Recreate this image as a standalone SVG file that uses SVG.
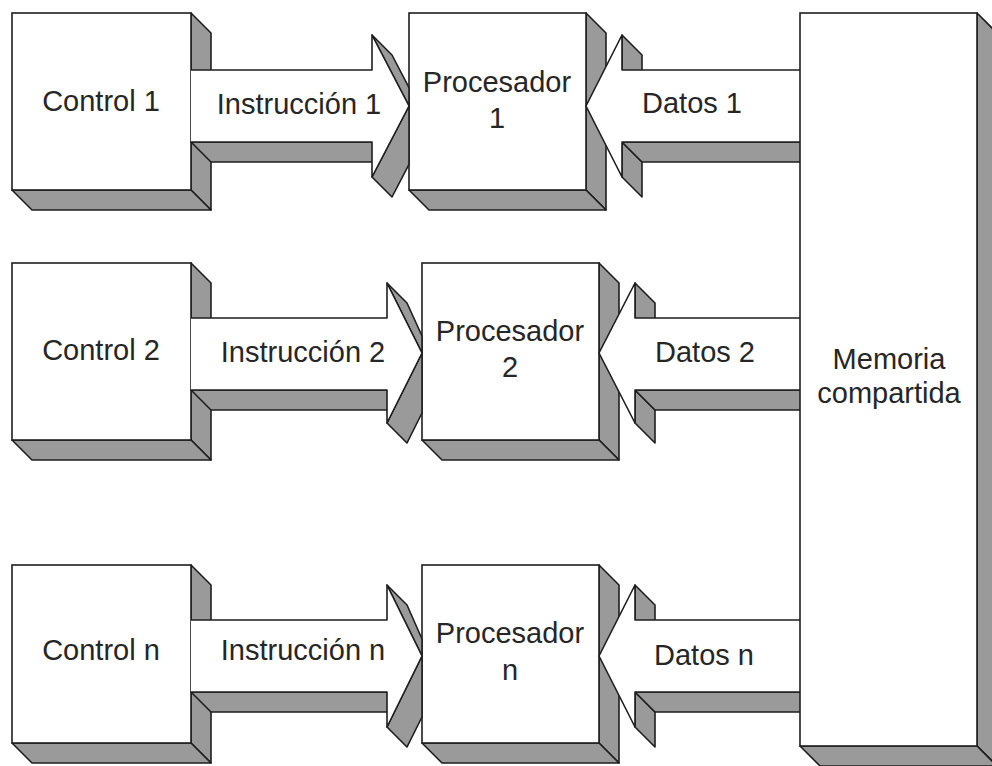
<svg xmlns="http://www.w3.org/2000/svg" width="992" height="766" viewBox="0 0 992 766">
<style>
.s{fill:#9a9a9a;stroke:#1e1e1e;stroke-width:1.6;stroke-linejoin:round}
.f{fill:#ffffff;stroke:#1e1e1e;stroke-width:1.6}
.af{fill:#ffffff;stroke:none}
.al{fill:none;stroke:#1e1e1e;stroke-width:1.6;stroke-linejoin:round}
.t{font-family:"Liberation Sans",Arial,sans-serif;font-size:29px;fill:#262626;text-anchor:middle}
</style>
<rect width="992" height="766" fill="#ffffff"/>

<g id="control1">
<polygon class="s" points="191,13 211,33 211,210 191,190"/>
<polygon class="s" points="12,190 191,190 211,210 32,210"/>
<rect class="f" x="12" y="13" width="179" height="177"/>
<text class="t" x="101" y="111">Control 1</text>
</g>
<g id="control2">
<polygon class="s" points="191,263 211,283 211,460 191,440"/>
<polygon class="s" points="12,440 191,440 211,460 32,460"/>
<rect class="f" x="12" y="263" width="179" height="177"/>
<text class="t" x="101" y="360">Control 2</text>
</g>
<g id="controln">
<polygon class="s" points="191,565 211,585 211,763 191,743"/>
<polygon class="s" points="12,743 191,743 211,763 32,763"/>
<rect class="f" x="12" y="565" width="179" height="178"/>
<text class="t" x="101" y="660">Control n</text>
</g>

<g id="procesador1">
<polygon class="s" points="586,13 606,33 606,210 586,190"/>
<polygon class="s" points="409,190 586,190 606,210 429,210"/>
<rect class="f" x="409" y="13" width="177" height="177"/>
<text class="t" x="497" y="92">Procesador</text>
<text class="t" x="497" y="128">1</text>
</g>
<g id="procesador2">
<polygon class="s" points="599,263 619,283 619,460 599,440"/>
<polygon class="s" points="422,440 599,440 619,460 442,460"/>
<rect class="f" x="422" y="263" width="177" height="177"/>
<text class="t" x="510" y="341">Procesador</text>
<text class="t" x="510" y="377">2</text>
</g>
<g id="procesadorn">
<polygon class="s" points="599,565 619,585 619,763 599,743"/>
<polygon class="s" points="422,743 599,743 619,763 442,763"/>
<rect class="f" x="422" y="565" width="177" height="178"/>
<text class="t" x="510" y="643">Procesador</text>
<text class="t" x="510" y="680">n</text>
</g>

<g id="connectors">
<g id="instruccion1">
<polygon class="s" points="372,142 191,142 211,162 392,162"/>
<polygon class="s" points="372,35 409,106 409,87.6 392,55"/>
<polygon class="s" points="409,106 372,177 392,197 409,164.4"/>
<polygon class="af" points="191,70 372,70 372,35 409,106 372,177 372,142 191,142"/>
<polyline class="al" points="191,70 372,70 372,35 409,106 372,177 372,142 191,142"/>
<text class="t" x="299" y="114">Instrucción 1</text>
</g>
<g id="datos1">
<polygon class="s" points="622,70 622,35 642,55 642,90"/>
<polygon class="s" points="622,177 622,142 642,162 642,197"/>
<polygon class="s" points="622,142 800,142 820,162 642,162"/>
<polygon class="af" points="800,70 622,70 622,35 586,106 622,177 622,142 800,142"/>
<polyline class="al" points="800,70 622,70 622,35 586,106 622,177 622,142 800,142"/>
<text class="t" x="692" y="113">Datos 1</text>
</g>
<g id="instruccion2">
<polygon class="s" points="387,390 191,390 211,410 407,410"/>
<polygon class="s" points="387,283 422,353 422,336 407,303"/>
<polygon class="s" points="422,353 387,423 407,443 422,413"/>
<polygon class="af" points="191,318 387,318 387,283 422,353 387,423 387,390 191,390"/>
<polyline class="al" points="191,318 387,318 387,283 422,353 387,423 387,390 191,390"/>
<text class="t" x="303" y="362">Instrucción 2</text>
</g>
<g id="datos2">
<polygon class="s" points="635,318 635,283 655,303 655,338"/>
<polygon class="s" points="635,423 635,390 655,410 655,443"/>
<polygon class="s" points="635,390 800,390 820,410 655,410"/>
<polygon class="af" points="800,318 635,318 635,283 599,353 635,423 635,390 800,390"/>
<polyline class="al" points="800,318 635,318 635,283 599,353 635,423 635,390 800,390"/>
<text class="t" x="705" y="362">Datos 2</text>
</g>
<g id="instruccionn">
<polygon class="s" points="387,692 191,692 211,712 407,712"/>
<polygon class="s" points="387,585 422,656 422,639 407,605"/>
<polygon class="s" points="422,656 387,727 407,747 422,717"/>
<polygon class="af" points="191,620 387,620 387,585 422,656 387,727 387,692 191,692"/>
<polyline class="al" points="191,620 387,620 387,585 422,656 387,727 387,692 191,692"/>
<text class="t" x="303" y="660">Instrucción n</text>
</g>
<g id="datosn">
<polygon class="s" points="635,620 635,585 655,605 655,640"/>
<polygon class="s" points="635,727 635,692 655,712 655,747"/>
<polygon class="s" points="635,692 800,692 820,712 655,712"/>
<polygon class="af" points="800,620 635,620 635,585 599,656 635,727 635,692 800,692"/>
<polyline class="al" points="800,620 635,620 635,585 599,656 635,727 635,692 800,692"/>
<text class="t" x="704" y="665">Datos n</text>
</g>
</g>

<g id="memoria">
<polygon class="s" points="977,13 997,33 997,766 977,746"/>
<polygon class="s" points="800,746 977,746 997,766 820,766"/>
<rect class="f" x="800" y="13" width="177" height="733"/>
<text class="t" x="889" y="369">Memoria</text>
<text class="t" x="889" y="403">compartida</text>
</g>
</svg>
